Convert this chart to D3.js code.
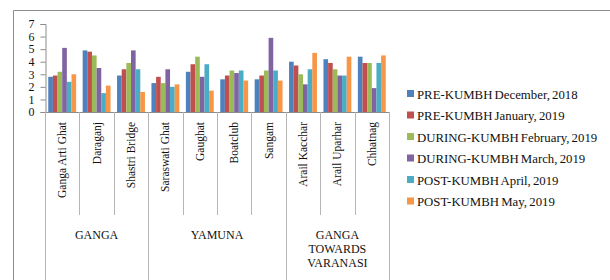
<!DOCTYPE html>
<html>
<head>
<meta charset="utf-8">
<script src="https://cdn.jsdelivr.net/npm/d3@7"></script>
<style>
  body { margin: 0; background: #fff; }
  text { font-family: "Liberation Serif", "Times New Roman", serif; fill: #111; }
</style>
</head>
<body>
<div id="app"></div>
<script>
(function (d3) {

  'use strict'

  const sites = ['Ganga Arti Ghat', 'Daraganj', 'Shastri Bridge', 'Saraswati Ghat', 'Gaughat',
    'Boatclub', 'Sangam', 'Arail Kacchar', 'Arail Uparhar', 'Chhatnag']
  const rivers = [['GANGA'], ['YAMUNA'], ['GANGA', 'TOWARDS', 'VARANASI']]
  const riverSpan = [3, 4, 3]
  const seriesNames = ['PRE-KUMBH December, 2018', 'PRE-KUMBH January, 2019',
    'DURING-KUMBH February, 2019', 'DURING-KUMBH March, 2019',
    'POST-KUMBH April, 2019', 'POST-KUMBH May, 2019']
  const colors = ['#4F81BD', '#C0504D', '#9BBB59', '#8064A2', '#4BACC6', '#F79646']

  const dec18 = [2.8, 4.9, 2.9, 2.3, 3.2, 2.6, 2.6, 4.0, 4.2, 4.4]
  const jan19 = [2.9, 4.8, 3.4, 2.8, 3.8, 2.9, 2.9, 3.7, 3.9, 3.9]
  const feb19 = [3.2, 4.5, 3.9, 2.3, 4.4, 3.3, 3.3, 3.0, 3.4, 3.9]
  const mar19 = [5.1, 3.5, 4.9, 3.4, 2.8, 3.1, 5.9, 2.2, 2.9, 1.9]
  const apr19 = [2.4, 1.5, 3.4, 2.0, 3.8, 3.3, 3.3, 3.4, 2.9, 3.9]
  const may19 = [3.0, 2.1, 1.6, 2.2, 1.7, 2.5, 2.5, 4.7, 4.4, 4.5]
  const series = [dec18, jan19, feb19, mar19, apr19, may19]

  const yTicks = [0, 1, 2, 3, 4, 5, 6, 7]

  const w = 610
  const h = 280
  const left = 45
  const right = 389
  const top = 24
  const base = 112

  const svg = d3.select('#app')
  .append('svg')
  .attr('width', w)
  .attr('height', h)

  // outer frame
  svg.append('path')
  .attr('d', `M13.5,${h} V10.5 H${w}`)
  .attr('fill', 'none')
  .attr('stroke', '#8c8c8c')

  const x = d3.scaleBand()
  .domain(sites)
  .range([left, right])
  .paddingInner(0)

  const x1 = d3.scaleBand()
  .domain(d3.range(series.length))
  .range([0, x.bandwidth()])
  .paddingOuter(0.7)
  .paddingInner(0)

  const y = d3.scaleLinear()
  .domain([0, 7])
  .range([base, top])

  // y axis
  const yAxis = svg.append('g')
  .attr('transform', `translate(${left + 0.5},0)`)
  .call(d3.axisLeft(y).tickValues(yTicks).tickSize(5).tickPadding(6).tickFormat(d3.format('d')))
  yAxis.select('.domain').attr('stroke', '#8c8c8c')
  yAxis.selectAll('line').attr('stroke', '#8c8c8c')
  yAxis.selectAll('text')
  .style('font-family', '"Liberation Serif", serif')
  .style('font-size', '12px')
  .attr('fill', '#111')

  // bars
  svg.append('g')
  .selectAll('g')
  .data(series)
  .enter()
  .append('g')
  .attr('fill', (d, i) => colors[i])
  .each(function (vals, si) {
    d3.select(this).selectAll('rect')
    .data(vals)
    .enter()
    .append('rect')
    .attr('x', (d, i) => x(sites[i]) + x1(si))
    .attr('width', x1.bandwidth())
    .attr('y', d => y(d))
    .attr('height', d => base - y(d))
  })

  // category axis baseline
  svg.append('line')
  .attr('x1', left).attr('x2', right)
  .attr('y1', base + 0.5).attr('y2', base + 0.5)
  .attr('stroke', '#8c8c8c')

  // dividers
  const groupStarts = [0]
  riverSpan.forEach((n, i) => groupStarts.push(groupStarts[i] + n))
  const edges = sites.map(s => x(s)).concat([right])
  svg.append('g')
  .selectAll('line')
  .data(edges)
  .enter()
  .append('line')
  .attr('x1', d => Math.round(d) + 0.5)
  .attr('x2', d => Math.round(d) + 0.5)
  .attr('y1', base)
  .attr('y2', (d, i) => groupStarts.includes(i) ? h : 215)
  .attr('stroke', '#b5b5b5')

  // site labels
  svg.append('g')
  .selectAll('text')
  .data(sites)
  .enter()
  .append('text')
  .attr('transform', d => `translate(${x(d) + x.bandwidth() / 2 + 4},122) rotate(-90)`)
  .attr('text-anchor', 'end')
  .style('font-size', '11.5px')
  .text(d => d)

  // river labels
  rivers.forEach((lines, i) => {
    const x0 = edges[groupStarts[i]]
    const xEnd = edges[groupStarts[i + 1]]
    svg.append('text')
    .attr('x', (x0 + xEnd) / 2)
    .attr('y', 239)
    .attr('text-anchor', 'middle')
    .style('font-size', '12px')
    .selectAll('tspan')
    .data(lines)
    .enter()
    .append('tspan')
    .attr('x', (x0 + xEnd) / 2)
    .attr('dy', (d, j) => j === 0 ? 0 : 14)
    .text(d => d)
  })

  // legend
  const legend = svg.append('g')
  .selectAll('g')
  .data(seriesNames)
  .enter()
  .append('g')
  .attr('transform', (d, i) => `translate(407,${94 + i * 21.5})`)
  legend.append('rect')
  .attr('x', 0).attr('y', -4)
  .attr('width', 7).attr('height', 7)
  .attr('fill', (d, i) => colors[i])
  legend.append('text')
  .attr('x', 10)
  .attr('y', 4.5)
  .style('font-size', '12.8px')
  .style('word-spacing', '-1px')
  .text(d => d)

}(d3))
</script>
</body>
</html>
